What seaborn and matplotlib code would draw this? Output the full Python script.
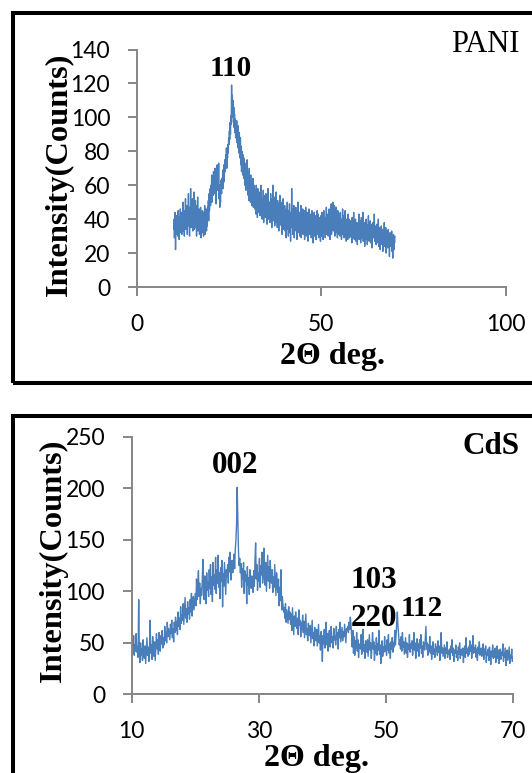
import numpy as np
import pandas as pd
import matplotlib
matplotlib.use("Agg")
import matplotlib.pyplot as plt
from matplotlib.patches import Rectangle
import seaborn as sns

# ---- XRD scans, 10-70 deg (2-theta), 0.1 deg step: one row per degree ----
pani_counts = [
    34, 40, 29, 38, 44, 22, 36, 31, 42, 35,
    39, 30, 45, 33, 37, 28, 41, 36, 46, 32,
    38, 44, 31, 40, 35, 50, 33, 42, 37, 30,
    45, 36, 52, 34, 41, 38, 48, 31, 44, 39,
    55, 36, 43, 30, 47, 40, 58, 35, 42, 49,
    37, 52, 33, 45, 40, 56, 34, 47, 39, 51,
    35, 44, 30, 48, 38, 53, 33, 41, 36, 46,
    31, 40, 35, 47, 29, 42, 37, 32, 45, 34,
    38, 30, 44, 35, 48, 31, 40, 36, 46, 33,
    40, 36, 47, 42, 51, 39, 55, 45, 50, 58,
    48, 60, 52, 66, 50, 58, 63, 54, 68, 56,
    62, 55, 70, 58, 64, 49, 67, 60, 72, 57,
    65, 58, 73, 52, 60, 47, 56, 50, 63, 58,
    55, 64, 60, 69, 58, 66, 72, 62, 70, 75,
    68, 78, 72, 82, 70, 80, 76, 84, 79, 88,
    84, 92, 87, 97, 90, 101, 96, 119, 105, 113,
    100, 110, 97, 106, 94, 102, 91, 99, 88, 96,
    90, 98, 85, 93, 82, 95, 86, 79, 91, 84,
    76, 88, 72, 83, 68, 80, 74, 66, 78, 70,
    64, 76, 68, 60, 73, 65, 57, 70, 62, 75,
    58, 68, 54, 64, 51, 70, 56, 61, 50, 66,
    55, 62, 48, 58, 52, 64, 47, 56, 60, 50,
    46, 57, 52, 43, 60, 49, 54, 41, 58, 47,
    53, 44, 56, 48, 42, 55, 47, 60, 45, 51,
    40, 52, 46, 57, 38, 50, 44, 54, 41, 48,
    55, 42, 49, 37, 53, 45, 58, 40, 47, 43,
    50, 38, 46, 55, 41, 48, 35, 52, 44, 60,
    39, 47, 42, 53, 36, 45, 50, 38, 56, 43,
    48, 35, 51, 42, 46, 33, 49, 40, 54, 37,
    44, 50, 36, 47, 31, 43, 39, 52, 34, 45,
    38, 48, 33, 44, 40, 29, 46, 36, 50, 34,
    42, 30, 45, 37, 49, 32, 40, 27, 44, 35,
    58, 38, 46, 31, 41, 36, 48, 29, 43, 34,
    39, 47, 33, 42, 28, 45, 36, 50, 32, 40,
    35, 44, 30, 41, 37, 48, 29, 43, 34, 39,
    46, 31, 40, 36, 45, 28, 42, 33, 47, 37,
    30, 41, 35, 44, 27, 39, 34, 46, 31, 38,
    43, 32, 40, 29, 37, 45, 33, 41, 26, 38,
    36, 44, 30, 39, 34, 42, 28, 40, 35, 45,
    31, 38, 43, 29, 36, 41, 33, 39, 27, 42,
    37, 30, 44, 34, 40, 28, 38, 45, 32, 36,
    41, 29, 36, 33, 47, 31, 39, 35, 43, 30,
    38, 46, 32, 40, 28, 44, 35, 49, 31, 37,
    45, 34, 50, 33, 42, 36, 48, 30, 39, 44,
    32, 47, 36, 41, 29, 45, 34, 39, 31, 43,
    37, 30, 44, 35, 40, 28, 38, 33, 46, 31,
    36, 42, 29, 39, 34, 45, 30, 37, 27, 40,
    33, 38, 28, 43, 31, 36, 40, 29, 35, 32,
    39, 30, 37, 26, 41, 33, 38, 29, 44, 34,
    28, 36, 32, 40, 27, 35, 31, 38, 25, 34,
    37, 30, 43, 28, 35, 32, 39, 26, 33, 41,
    29, 36, 31, 44, 27, 34, 30, 38, 24, 33,
    35, 28, 40, 31, 37, 25, 33, 29, 42, 30,
    27, 36, 32, 39, 26, 34, 30, 37, 23, 32,
    38, 29, 35, 31, 43, 27, 33, 30, 36, 25,
    31, 37, 26, 34, 29, 40, 24, 33, 28, 35,
    22, 32, 27, 36, 30, 25, 34, 21, 29, 33,
    26, 38, 24, 31, 28, 35, 20, 30, 27, 33,
    29, 23, 34, 26, 31, 18, 28, 32, 24, 30,
    25, 33, 21, 29, 17, 27, 31, 22, 28, 26,
    30,
]

cds_counts = [
    44, 52, 40, 57, 38, 48, 42, 59, 41, 46,
    36, 92, 45, 31, 50, 38, 44, 33, 53, 40,
    35, 47, 30, 43, 55, 38, 46, 32, 41, 72,
    40, 48, 34, 56, 42, 37, 51, 33, 45, 59,
    44, 53, 39, 60, 47, 42, 57, 49, 62, 45,
    55, 48, 66, 52, 61, 50, 70, 56, 64, 58,
    53, 68, 59, 72, 55, 64, 51, 70, 60, 75,
    62, 71, 58, 80, 66, 74, 63, 85, 69, 77,
    72, 88, 68, 80, 94, 74, 83, 70, 90, 78,
    84, 73, 92, 80, 98, 76, 87, 95, 82, 90,
    98, 86, 112, 92, 104, 120, 95, 108, 88, 103,
    96, 110, 131, 99, 92, 115, 104, 88, 118, 101,
    109, 95, 121, 103, 126, 97, 114, 90, 128, 106,
    116, 102, 133, 98, 121, 108, 135, 104, 118, 93,
    123, 110, 130, 85, 117, 105, 128, 112, 97, 121,
    114, 126, 108, 133, 119, 138, 111, 125, 130, 118,
    128, 136, 122, 141, 150, 165, 201, 172, 140, 125,
    132, 118, 127, 104, 122, 112, 128, 98, 120, 110,
    116, 88, 124, 106, 113, 97, 121, 109, 103, 115,
    108, 99, 120, 105, 130, 147, 112, 126, 101, 118,
    110, 132, 104, 125, 116, 138, 108, 120, 142, 112,
    106, 128, 100, 119, 135, 110, 124, 103, 130, 115,
    108, 121, 99, 114, 104, 126, 111, 96, 118, 105,
    99, 112, 86, 104, 91, 121, 82, 95, 88, 80,
    84, 74, 88, 70, 82, 76, 69, 85, 73, 80,
    68, 78, 62, 84, 71, 58, 76, 66, 80, 70,
    64, 74, 58, 82, 67, 72, 56, 70, 63, 77,
    60, 71, 55, 66, 78, 58, 64, 52, 69, 61,
    57, 67, 50, 62, 72, 54, 60, 47, 65, 56,
    52, 63, 47, 58, 68, 50, 57, 43, 61, 54,
    32, 57, 49, 63, 45, 55, 70, 48, 59, 42,
    54, 62, 46, 58, 66, 50, 56, 45, 64, 53,
    57, 48, 66, 53, 60, 44, 63, 55, 70, 51,
    58, 65, 52, 61, 56, 68, 59, 50, 64, 62,
    66, 60, 70, 63, 75, 68, 58, 46, 62, 40,
    56, 38, 52, 45, 60, 42, 53, 36, 49, 47,
    44, 58, 39, 50, 63, 42, 48, 35, 52, 45,
    41, 53, 37, 47, 58, 43, 50, 35, 46, 60,
    44, 51, 33, 47, 40, 55, 38, 49, 43, 62,
    39, 48, 30, 45, 52, 37, 46, 41, 56, 42,
    47, 38, 53, 43, 58, 40, 49, 35, 51, 44,
    55, 41, 50, 46, 62, 48, 57, 70, 80, 66,
    58, 48, 53, 44, 56, 42, 60, 46, 51, 39,
    47, 55, 40, 50, 36, 48, 44, 58, 41, 49,
    45, 52, 38, 47, 60, 43, 50, 35, 46, 54,
    42, 49, 37, 53, 45, 58, 40, 47, 36, 51,
    46, 43, 55, 66, 44, 50, 38, 48, 42, 56,
    40, 47, 34, 45, 51, 39, 44, 36, 49, 42,
    46, 38, 52, 41, 47, 33, 44, 60, 40, 45,
    37, 43, 48, 35, 45, 40, 51, 36, 42, 39,
    44, 34, 47, 41, 53, 38, 45, 32, 43, 40,
    48, 36, 42, 33, 46, 39, 50, 35, 41, 44,
    38, 45, 31, 42, 47, 36, 55, 40, 44, 37,
    46, 39, 52, 42, 48, 35, 44, 57, 40, 45,
    41, 48, 36, 44, 33, 46, 40, 51, 38, 43,
    45, 37, 42, 49, 34, 44, 39, 47, 31, 41,
    38, 44, 33, 46, 40, 29, 42, 37, 48, 35,
    42, 36, 45, 31, 40, 47, 35, 43, 30, 39,
    44, 34, 41, 38, 49, 32, 40, 36, 45, 28,
    37, 43, 33, 40, 46, 30, 38, 35, 44, 32,
    36,
]

# 2-theta scan positions (start 10 deg, 0.1 deg step)
pani_two_theta = np.round(10.0 + 0.1 * np.arange(len(pani_counts)), 1)
cds_two_theta = np.round(10.0 + 0.1 * np.arange(len(cds_counts)), 1)

pani_xticks = [0, 50, 100]
pani_yticks = [0, 20, 40, 60, 80, 100, 120, 140]
cds_xticks = [10, 30, 50, 70]
cds_yticks = [0, 50, 100, 150, 200, 250]

pani_df = pd.DataFrame({"two_theta": pani_two_theta, "counts": pani_counts})
cds_df = pd.DataFrame({"two_theta": cds_two_theta, "counts": cds_counts})

# ---- styling ----
sns.set_theme(style="white")
plt.rcParams["font.family"] = ["Lato", "DejaVu Sans"]

LINE = "#4a7ebb"
AXIS_GREY = "#868686"
SERIF = ["Liberation Serif", "DejaVu Serif"]

W, H = 532, 773
fig = plt.figure(figsize=(W / 100, H / 100), dpi=100)
fig.patch.set_facecolor("white")


def fx(px):
    return px / W


def fy(py):
    return 1 - py / H


def axes_box(left, right, top, bottom):
    return [fx(left), fy(bottom), fx(right) - fx(left), fy(top) - fy(bottom)]


ax1 = fig.add_axes(axes_box(136.8, 505.6, 49.5, 287))
ax2 = fig.add_axes(axes_box(131.7, 513.0, 436.8, 694.4))

sns.lineplot(data=pani_df, x="two_theta", y="counts", ax=ax1, color=LINE,
             linewidth=1.0, estimator=None, errorbar=None)
sns.lineplot(data=cds_df, x="two_theta", y="counts", ax=ax2, color=LINE,
             linewidth=1.0, estimator=None, errorbar=None)

ax1.set_xlim(0, 100)
ax1.set_ylim(0, 140)
ax1.set_xticks(pani_xticks)
ax1.set_yticks(pani_yticks)
ax2.set_xlim(10, 70)
ax2.set_ylim(0, 250)
ax2.set_xticks(cds_xticks)
ax2.set_yticks(cds_yticks)

for ax in (ax1, ax2):
    ax.set_xlabel("")
    ax.set_ylabel("")
    ax.set_facecolor("none")
    for side in ("top", "right"):
        ax.spines[side].set_visible(False)
    for side in ("left", "bottom"):
        ax.spines[side].set_color(AXIS_GREY)
        ax.spines[side].set_linewidth(1.4)
    ax.tick_params(axis="both", which="major", bottom=True, left=True,
                   top=False, right=False, direction="out", length=6.2,
                   width=1.4, color=AXIS_GREY, labelsize=16.5,
                   labelcolor="black", pad=13)
    for lab in ax.get_xticklabels() + ax.get_yticklabels():
        lab.set_fontfamily(["Lato", "DejaVu Sans"])

# ---- panel frames ----
frame_kw = dict(transform=fig.transFigure, fill=False, edgecolor="black",
                linewidth=2.9, clip_on=False)
fig.add_artist(Rectangle((fx(13.2), fy(382.8)), fx(570) - fx(13.2),
                         fy(13.2) - fy(382.8), **frame_kw))
fig.add_artist(Rectangle((fx(13.2), fy(810)), fx(570) - fx(13.2),
                         fy(415.5) - fy(810), **frame_kw))


def label(x, y, text, size, weight="bold", **kw):
    fig.text(fx(x), fy(y), text, fontsize=size, fontweight=weight,
             fontfamily=SERIF, ha="center", va="baseline", color="black", **kw)


# axis titles
label(332.5, 364.0, "2Θ deg.", 23)
label(316.4, 765.6, "2Θ deg.", 23)
label(66.8, 174.0, "Intensity(Counts)", 23.3, rotation=90, rotation_mode="anchor")
label(60.4, 560.5, "Intensity(Counts)", 23.3, rotation=90, rotation_mode="anchor")

# sample names
label(485.0, 51.6, "PANI", 22, weight="normal")
label(490.8, 454.5, "CdS", 22.4)

# reflection indices
label(230.7, 76.4, "110", 21)
label(235.3, 472.5, "002", 22.4)
label(373.8, 588.5, "103", 22.4)
label(373.6, 626.5, "220", 22.4)
label(421.3, 616.3, "112", 21)

fig.savefig("out.png", dpi=100, facecolor="white")
